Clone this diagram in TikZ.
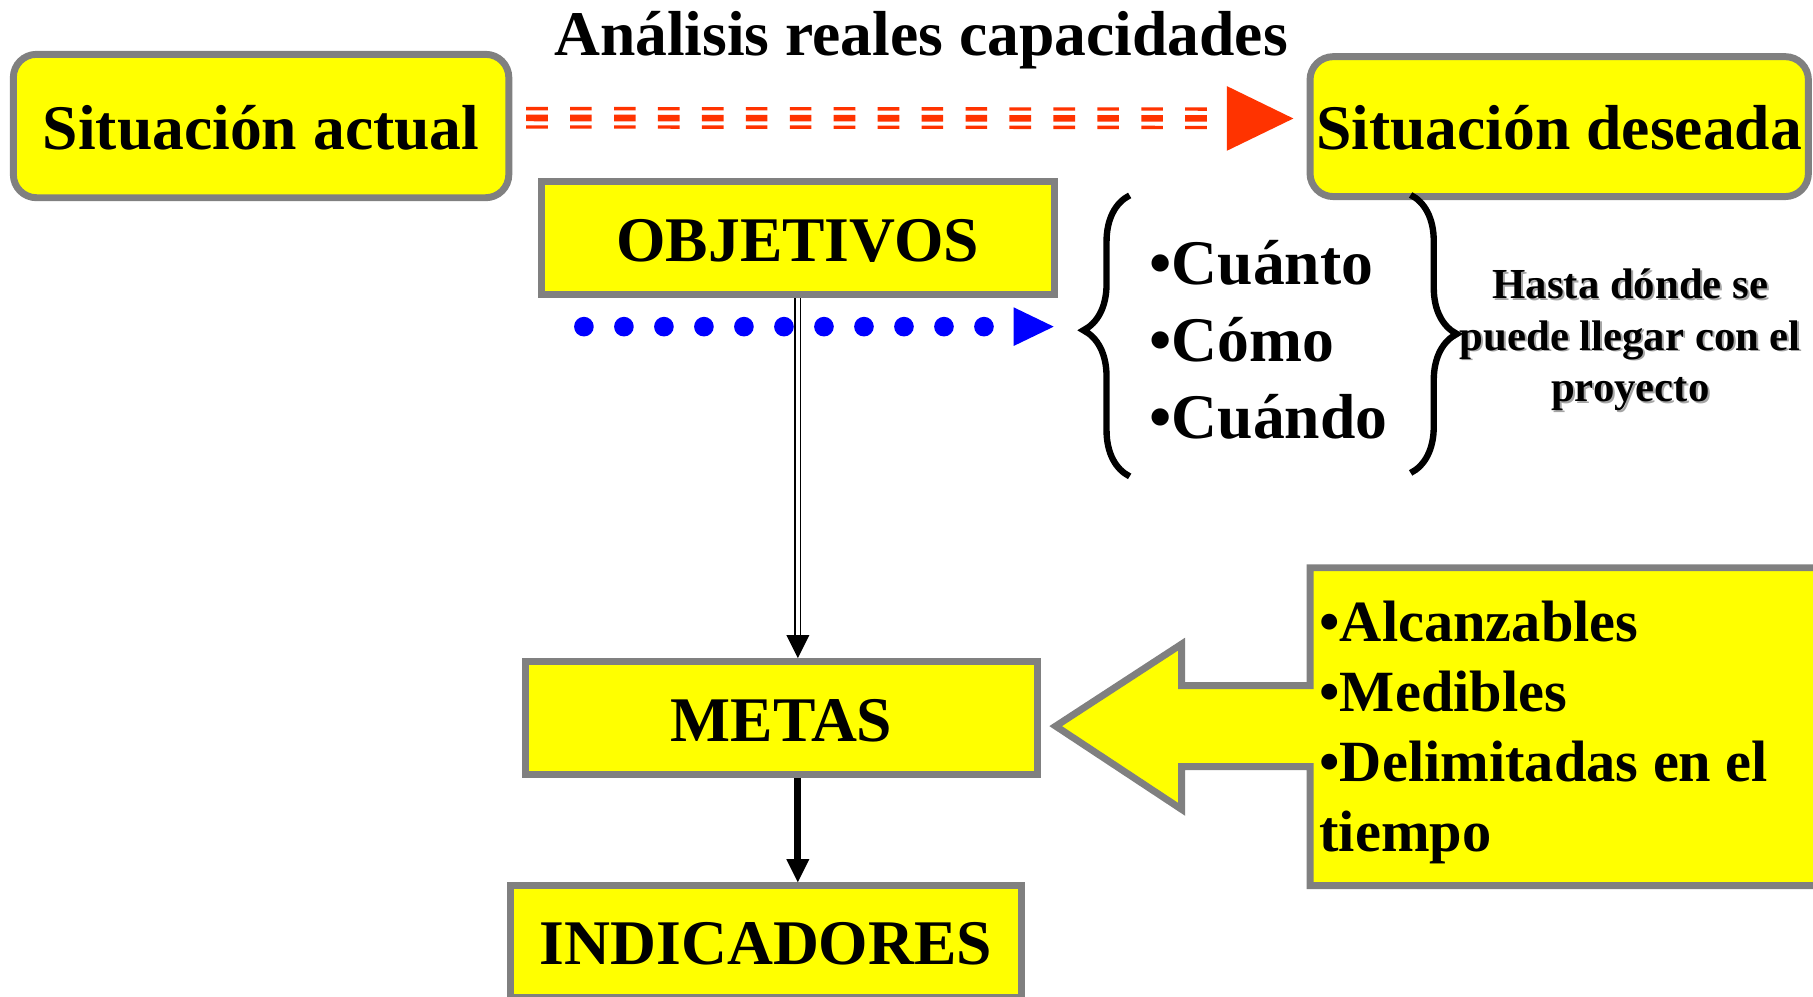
\documentclass[tikz,border=0pt]{standalone}
\usepackage{fontspec}
\setmainfont{Liberation Serif}
\usepackage{xcolor}
\usepackage{tikz}
\usetikzlibrary{arrows.meta,positioning,calc,decorations.pathreplacing}

\definecolor{boxyellow}{RGB}{255,255,0}
\definecolor{boxgray}{RGB}{128,128,128}
\definecolor{flowred}{RGB}{255,51,0}
\definecolor{flowblue}{RGB}{0,0,255}
\definecolor{shadowgray}{RGB}{165,165,165}

\begin{document}
\begin{tikzpicture}[x=1pt, y=-1pt,
    state/.style={rectangle, rounded corners=20pt, draw=boxgray, fill=boxyellow, line width=6pt, inner sep=0pt,
        text height=40pt, text depth=0pt, font=\bfseries\fontsize{55}{66}\selectfont},
    block/.style={state, sharp corners},
    title/.style={inner sep=0pt, anchor=base, font=\bfseries\fontsize{55}{66}\selectfont},
    items/.style={inner sep=0pt, anchor=base west, align=left, font=\bfseries\fontsize{55}{66.3}\selectfont},
    crititems/.style={items, font=\bfseries\fontsize{50.5}{60.5}\selectfont},
    note/.style={inner sep=0pt, anchor=base, align=center, font=\bfseries\fontsize{37}{44.7}\selectfont},
    redbar/.style={flowred, dash pattern=on 18.7pt off 19.3pt, shorten <=12pt},
    bluedots/.style={flowblue, line width=17pt, line cap=round, dash pattern=on 0pt off 34.6pt,
        -{Triangle[length=34.6pt, width=33.4pt, line width=0pt]}},
    dbl/.style={draw=black, line width=1.6pt, double=white, double distance=3pt,
        -{Triangle[length=20pt, width=20pt, line width=0pt]}},
    link/.style={black, line width=6pt, -{Triangle[length=20pt, width=20pt, line width=0pt]}},
    curly/.style={decorate, decoration={brace, amplitude=40pt, aspect=#1}, line width=5.5pt},
    callout/.style={draw=boxgray, fill=boxyellow, line width=6pt, line join=miter}
]
    \useasboundingbox (0,0) rectangle (1568,862);

    \node[state, minimum width=428.5pt, minimum height=124pt] (actual) at (225.8,109) {Situación actual};
    \node[state, minimum width=431pt, minimum height=121pt] (deseada) at (1348.5,109.5) {Situación deseada};
    \node[title] (head) at (796.5,47.6) {Análisis reales capacidades};

    \draw[redbar, line width=5.7pt, shorten >=11.4pt, -{Triangle[length=57.6pt, width=56pt, line width=0pt]}]
        ([yshift=7pt]actual.east) -- ([yshift=7pt]deseada.west);
    \draw[redbar, line width=2.9pt, shorten >=80pt, transform canvas={yshift=8.1pt}]
        ([yshift=7pt]actual.east) -- ([yshift=7pt]deseada.west);
    \draw[redbar, line width=2.9pt, shorten >=80pt, transform canvas={yshift=-7.8pt}]
        ([yshift=7pt]actual.east) -- ([yshift=7pt]deseada.west);

    \node[block, minimum width=444pt, minimum height=98pt] (obj) at (690,206) {OBJETIVOS};
    \node[block, minimum width=443pt, minimum height=98pt] (metas) at (676,621.2) {METAS};
    \node[block, minimum width=442pt, minimum height=97pt] (indic) at (662.5,814.5) {INDICADORES};

    \coordinate (dotsrc) at (505,282.5);
    \coordinate (dotdst) at (911.3,282.5);
    \draw[bluedots] (dotsrc) -- (dotdst);

    \draw[dbl] (obj) -- (obj |- metas.north);
    \draw[link] (obj |- metas.south) -- (obj |- indic.north);

    \draw[curly=0.52] (977,412) -- (977,169);
    \draw[curly=0.5] (1220,168.6) -- (1220,409);
    \node[items] (how) at (994,379) {•Cuánto\\•Cómo\\•Cuándo};

    \node[note, text=shadowgray] (hastashadow) at (1411.7,349.1) {Hasta dónde se\\puede llegar con el\\proyecto};
    \node[note] (hasta) at (1410,347.4) {Hasta dónde se\\puede llegar con el\\proyecto};

    \draw[callout] (1133,491) -- (1590,491) -- (1590,766) -- (1133,766) -- (1133,663) -- (1022,663)
        -- (1022,700) -- (913,628) -- (1022,557) -- (1022,593) -- (1133,593) -- cycle;
    \node[crititems] (crit) at (1141,736.6) {•Alcanzables\\•Medibles\\•Delimitadas en el\\tiempo};
\end{tikzpicture}
\end{document}
